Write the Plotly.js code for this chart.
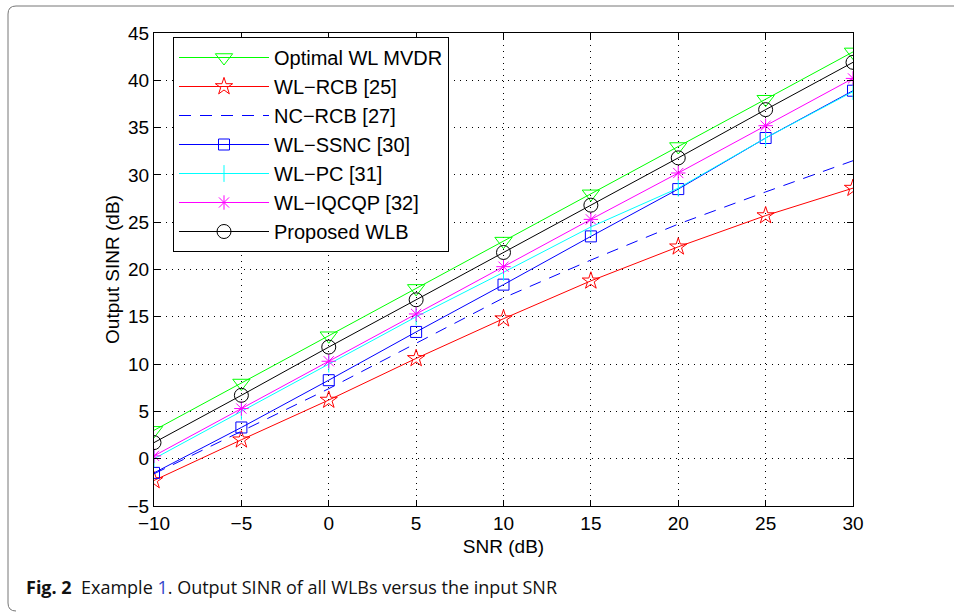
<!DOCTYPE html>
<html>
<head>
<meta charset="utf-8">
<script src="https://cdn.plot.ly/plotly-3.0.1.min.js"></script>
<style>html,body{margin:0;padding:0;background:#fff;}#chart{width:954px;height:612px;}</style>
</head>
<body>
<div id="chart"></div>
<script>
const snr = [-10, -5, 0, 5, 10, 15, 20, 25, 30];
const optimalWL = [3.0, 8.0, 13.0, 18.0, 23.0, 28.0, 33.0, 38.0, 43.0];
const wlRCB = [-2.3, 2.0, 6.2, 10.6, 14.8, 18.8, 22.4, 25.7, 28.6];
const ncRCB = [-1.6, 2.9, 7.4, 12.2, 17.0, 21.0, 24.8, 28.2, 31.5];
const wlSSNC = [-1.5, 3.3, 8.3, 13.4, 18.4, 23.5, 28.5, 33.9, 38.9];
const wlPC = [0.0, 5.0, 10.0, 15.0, 19.7, 24.5, 28.6, 33.9, 38.8];
const wlIQCQP = [0.3, 5.3, 10.3, 15.3, 20.3, 25.3, 30.2, 35.2, 40.2];
const proposed = [1.7, 6.7, 11.8, 16.8, 21.8, 26.8, 31.8, 36.9, 41.9];
const seriesNames = ['Optimal WL MVDR', 'WL−RCB [25]', 'NC−RCB [27]', 'WL−SSNC [30]', 'WL−PC [31]', 'WL−IQCQP [32]', 'Proposed WLB'];
const xTicks = [-10, -5, 0, 5, 10, 15, 20, 25, 30];
const yTicks = [-5, 0, 5, 10, 15, 20, 25, 30, 35, 40, 45];

function tr(y, name, color, symbol, size, dash, mode) {
  return {
    x: snr, y: y, name: name, type: 'scatter', mode: mode || 'lines+markers',
    line: {color: color, width: 1, dash: dash || 'solid'},
    marker: {symbol: symbol, size: size, color: color, line: {color: color, width: 1}}
  };
}
const data = [
  tr(optimalWL, seriesNames[0], '#00ff00', 'triangle-down-open', 15),
  tr(wlRCB, seriesNames[1], '#ff0000', 'star-open', 13),
  tr(ncRCB, seriesNames[2], '#0000ff', 'circle', 1, '12px,9px', 'lines'),
  tr(wlSSNC, seriesNames[3], '#0000ff', 'square-open', 11),
  tr(wlPC, seriesNames[4], '#00ffff', 'line-ns-open', 12),
  tr(wlIQCQP, seriesNames[5], '#ff00ff', 'asterisk-open', 12),
  tr(proposed, seriesNames[6], '#000000', 'circle-open', 14)
];
const L = 154, R = 853, T = 33, B = 506, W = 954, H = 612;
const pw = R - L, ph = B - T;
const px = v => (v - L) / pw, py = v => (B - v) / ph;
const bx0 = px(8), by0 = py(6), by1 = py(611), bx1 = px(970);
const rx = 8 / pw, ry = 8 / ph;
const borderPath = `M ${bx1} ${by0} L ${bx0 + rx} ${by0} Q ${bx0} ${by0} ${bx0} ${by0 - ry} L ${bx0} ${by1 + ry} Q ${bx0} ${by1} ${bx0 + rx} ${by1}`;
const axisFont = {family: 'Liberation Sans, Arial, sans-serif', size: 19, color: '#000'};
const legendFont = {family: 'Liberation Sans, Arial, sans-serif', size: 20, color: '#000'};
const layout = {
  width: W, height: H,
  margin: {l: L, r: W - R, t: T, b: H - B},
  paper_bgcolor: '#fff', plot_bgcolor: '#fff',
  showlegend: true,
  font: axisFont,
  xaxis: {
    range: [-10, 30], tickvals: xTicks, ticks: 'inside', ticklen: 6, tickcolor: '#000',
    showline: true, linecolor: '#000', linewidth: 1, mirror: 'ticks',
    showgrid: true, gridcolor: '#000', griddash: '1px,5px', gridwidth: 1,
    zeroline: false, tickfont: axisFont,
    title: {text: 'SNR (dB)', font: axisFont, standoff: 6}
  },
  yaxis: {
    range: [-5, 45], tickvals: yTicks, ticks: 'inside', ticklen: 6, tickcolor: '#000',
    showline: true, linecolor: '#000', linewidth: 1, mirror: 'ticks',
    showgrid: true, gridcolor: '#000', griddash: '1px,5px', gridwidth: 1,
    zeroline: false, tickfont: axisFont,
    title: {text: 'Output SINR (dB)', font: axisFont, standoff: 2}
  },
  legend: {
    x: px(173), y: py(37), xanchor: 'left', yanchor: 'top',
    bgcolor: '#fff', bordercolor: '#000', borderwidth: 1,
    font: legendFont, itemwidth: 90, tracegroupgap: 0
  },
  shapes: [{type: 'path', xref: 'paper', yref: 'paper', path: borderPath, line: {color: '#777', width: 1}}],
  annotations: [{
    xref: 'paper', yref: 'paper', x: px(24), y: py(587), xanchor: 'left', yanchor: 'middle',
    showarrow: false, align: 'left',
    text: '<b>Fig. 2</b>  Example <span style="color:#3344cc">1</span>. Output SINR of all WLBs versus the input SNR',
    font: {family: 'Open Sans, sans-serif', size: 18, color: '#111'}
  }]
};
Plotly.newPlot('chart', data, layout, {displayModeBar: false, staticPlot: true});
</script>
</body>
</html>
